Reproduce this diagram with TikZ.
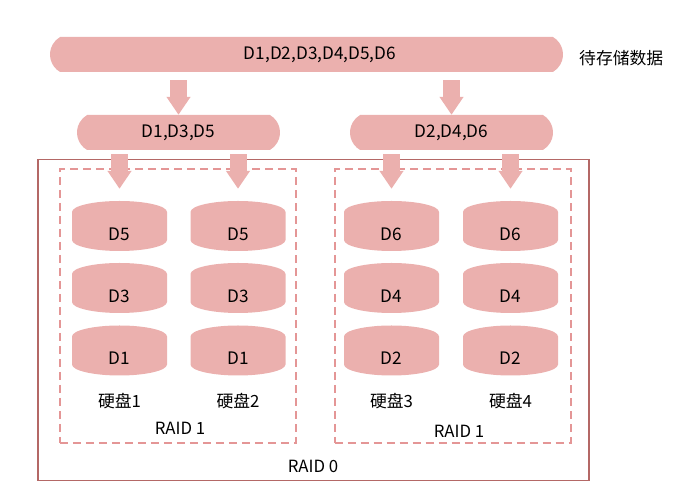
\documentclass[tikz,border=0pt]{standalone}
\usepackage{fontspec}
\setmainfont{Noto Sans CJK SC}
\usepackage{xcolor}
\usepackage{tikz}
\usetikzlibrary{shapes,arrows,positioning,calc,arrows.meta,shapes.misc}
\definecolor{diskPink}{RGB}{235,176,174}
\definecolor{raidRed}{RGB}{180,104,102}
\definecolor{dashPink}{RGB}{228,150,150}
\newcommand{\disktext}[1]{\raisebox{-8pt}[\height][\depth]{#1}}
\tikzset{
  dataBar/.style={
    rounded rectangle,
    rounded rectangle arc length=120,
    fill=diskPink,
    draw=none,
    minimum height=35pt,
    inner sep=0pt,
    font=\fontsize{17.2}{19}\selectfont
  },
  disk/.style={
    rectangle,
    minimum width=95pt,
    minimum height=50pt,
    inner sep=0pt,
    font=\fontsize{17.2}{19}\selectfont,
    path picture={
      \fill[diskPink] ([yshift=-11pt]path picture bounding box.north west)
        arc[start angle=180, end angle=0, x radius=47.5pt, y radius=11pt]
        -- ([yshift=11pt]path picture bounding box.south east)
        arc[start angle=0, end angle=-180, x radius=47.5pt, y radius=11pt]
        -- cycle;
    }
  },
  blockArrow/.style={
    -{Triangle[length=18pt,width=23pt]},
    line width=17pt,
    draw=diskPink
  },
  raidBox/.style={
    rectangle,
    draw=raidRed,
    line width=1.4pt
  },
  mirrorBox/.style={
    rectangle,
    draw=dashPink,
    line width=1.6pt,
    dash pattern=on 8pt off 5pt
  },
  plainText/.style={
    font=\fontsize{16.8}{19}\selectfont,
    inner sep=0pt
  }
}

\begin{document}
\begin{tikzpicture}[x=1pt,y=1pt]
        \useasboundingbox (0,0) rectangle (674,494);

        % data to store
        \node[dataBar, minimum width=513pt] (all) at (306.5,439.5) {\hspace*{27pt}D1,D2,D3,D4,D5,D6};
        \node[plainText, anchor=west] (allLabel) at (579,436) {待存储数据};
        \node[dataBar, minimum width=203pt] (partA) at (178.5,361.5) {D1,D3,D5};
        \node[dataBar, minimum width=203pt] (partB) at (451.5,361.5) {D2,D4,D6};

        % raid boxes
        \node[raidBox, minimum width=551pt, minimum height=321pt] (raid0) at (313.3,174) {};
        \node[mirrorBox, minimum width=236pt, minimum height=274pt] (raidA) at (177.8,188) {};
        \node[mirrorBox, minimum width=236pt, minimum height=274pt] (raidB) at (452.7,188) {};
        \node[plainText] (raid0Label) at (313,28) {RAID 0};
        \node[plainText] (raidALabel) at (180,66) {RAID 1};
        \node[plainText] (raidBLabel) at (459,63) {RAID 1};

        % disks
        \foreach \x/\n/\top/\mid/\bot in {119.5/1/D5/D3/D1, 238/2/D5/D3/D1, 391.5/3/D6/D4/D2, 510.5/4/D6/D4/D2} {
            \node[disk] (disk\n a) at (\x,268) {\disktext{\top}};
            \node[disk] (disk\n b) at (\x,206) {\disktext{\mid}};
            \node[disk] (disk\n c) at (\x,143.5) {\disktext{\bot}};
            \node[plainText] (disk\n Label) at (\x,93) {硬盘\n};
        }

        % arrows
        \draw[blockArrow, shorten <=8pt] (all.south -| partA) -- (partA.north);
        \draw[blockArrow, shorten <=8pt] (all.south -| partB) -- (partB.north);
        \draw[blockArrow, shorten <=4pt, shorten >=12pt] (partA.south -| disk1a.north) -- (disk1a.north);
        \draw[blockArrow, shorten <=4pt, shorten >=12pt] (partA.south -| disk2a.north) -- (disk2a.north);
        \draw[blockArrow, shorten <=4pt, shorten >=12pt] (partB.south -| disk3a.north) -- (disk3a.north);
        \draw[blockArrow, shorten <=4pt, shorten >=12pt] (partB.south -| disk4a.north) -- (disk4a.north);
    \end{tikzpicture}
\end{document}
